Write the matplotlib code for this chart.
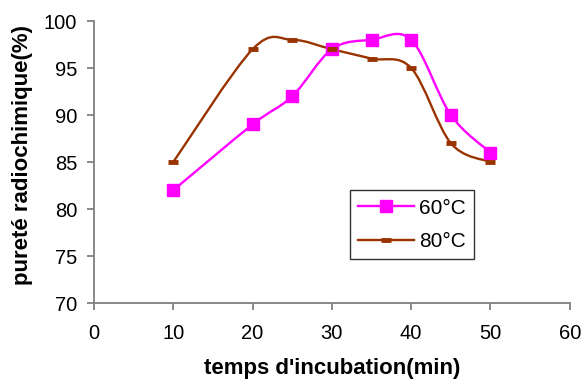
import numpy as np
import matplotlib
matplotlib.use('Agg')
import matplotlib.pyplot as plt
from matplotlib.path import Path
from matplotlib.patches import PathPatch
from matplotlib.lines import Line2D

plt.rcParams['font.family'] = ['Liberation Sans', 'DejaVu Sans']

# data
temps = [10, 20, 25, 30, 35, 40, 45, 50]
pur_60 = [82, 89, 92, 97, 98, 98, 90, 86]
pur_80 = [85, 97, 98, 97, 96, 95, 87, 85]
labels = ['60°C', '80°C']
xticks = [0, 10, 20, 30, 40, 50, 60]
yticks = [70, 75, 80, 85, 90, 95, 100]

col60 = '#FF00FF'
col80 = '#993300'
axcol = '#808080'


def smooth_path(xs, ys):
    # excel-like smoothed line: catmull-rom segments as cubic beziers
    P = np.column_stack([xs, ys]).astype(float)
    n = len(P)
    verts = [P[0]]
    codes = [Path.MOVETO]
    for i in range(n - 1):
        p0 = P[i - 1] if i > 0 else P[i]
        p1 = P[i]
        p2 = P[i + 1]
        p3 = P[i + 2] if i + 2 < n else P[i + 1]
        c1 = p1 + (p2 - p0) / 6.0
        c2 = p2 - (p3 - p1) / 6.0
        verts += [c1, c2, p2]
        codes += [Path.CURVE4] * 3
    return Path(verts, codes)


fig = plt.figure(figsize=(5.82, 3.80), dpi=100)
ax = fig.add_axes([0.1615, 0.2026, 0.8175, 0.7421])

ax.add_patch(PathPatch(smooth_path(temps, pur_60), fill=False, edgecolor=col60, lw=1.7, zorder=2))
ax.add_patch(PathPatch(smooth_path(temps, pur_80), fill=False, edgecolor=col80, lw=1.7, zorder=2))
ax.plot(temps, pur_60, ls='none', marker='s', ms=9, color=col60, zorder=3)
ax.plot(temps, pur_80, ls='none', marker='_', ms=7, mew=3.5, color=col80, zorder=3)

ax.set_xlim(0, 60)
ax.set_ylim(70, 100)
ax.set_xticks(xticks)
ax.set_yticks(yticks)
ax.tick_params(axis='both', labelsize=14.5, color=axcol, length=5, width=1.3, direction='out')
ax.tick_params(axis='x', pad=10)
ax.tick_params(axis='y', pad=7)
for s in ['top', 'right']:
    ax.spines[s].set_visible(False)
for s in ['left', 'bottom']:
    ax.spines[s].set_color(axcol)
    ax.spines[s].set_linewidth(1.3)

ax.set_xlabel("temps d'incubation(min)", fontsize=16, fontweight='bold', labelpad=11)
ax.set_ylabel('pureté radiochimique(%)', fontsize=16, fontweight='bold')
ax.yaxis.set_label_coords(-0.128, 0.525)

handles = [
    Line2D([], [], color=col60, lw=1.7, marker='s', ms=9),
    Line2D([], [], color=col80, lw=1.7, marker='_', ms=7, mew=3.5),
]
leg = ax.legend(handles, labels, loc='upper left', bbox_to_anchor=(0.538, 0.4),
                fontsize=15, frameon=True, fancybox=False, handlelength=2.65,
                handletextpad=0.25, borderpad=0.4, labelspacing=0.7, borderaxespad=0)
leg.get_frame().set_edgecolor('black')
leg.get_frame().set_linewidth(1.0)

plt.savefig('out.png', dpi=100)
